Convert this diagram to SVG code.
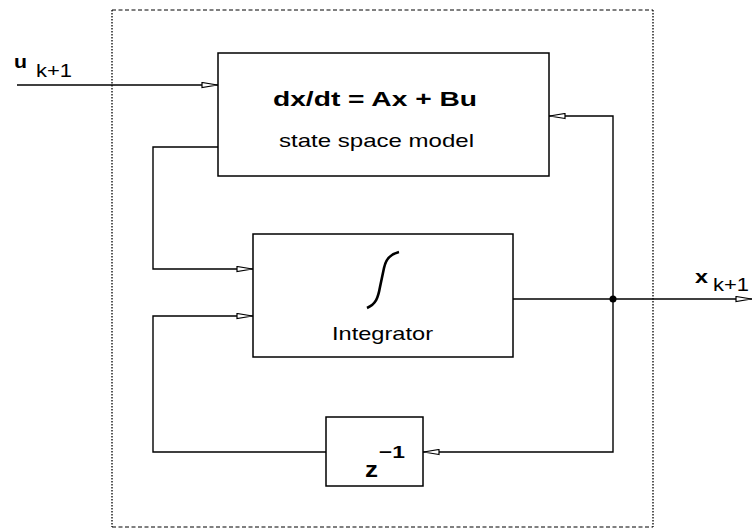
<svg xmlns="http://www.w3.org/2000/svg" width="752" height="529" viewBox="0 0 752 529">
<style>
.box{fill:#fff;stroke:#000;stroke-width:1.5}
.wire{fill:none;stroke:#000;stroke-width:1.4}
.t{font-family:"Liberation Sans",Arial,sans-serif;fill:#000}
.b{font-weight:bold}
</style>
<defs>
<marker id="ah" viewBox="0 0 17 7" refX="17" refY="3.5" markerWidth="17" markerHeight="7" markerUnits="userSpaceOnUse" orient="auto">
<path d="M1,1 L16.5,3.5 L1,6 Z" fill="#fff" stroke="#000" stroke-width="1.2"/>
</marker>
</defs>
<rect width="752" height="529" fill="#fff"/>
<g id="frame" fill="none" stroke="#000" stroke-width="1">
<line x1="112" y1="10" x2="653" y2="10" stroke-dasharray="4 2.5"/>
<line x1="112" y1="527" x2="653" y2="527" stroke-dasharray="4 2.5"/>
<line x1="112" y1="10" x2="112" y2="527" stroke-dasharray="1.5 1.5" stroke-width="1.3"/>
<line x1="653" y1="10" x2="653" y2="527" stroke-dasharray="1.5 1.5" stroke-width="1.3"/>
</g>
<g id="connectors">
<line class="wire" x1="17" y1="85" x2="218" y2="85" marker-end="url(#ah)"/>
<polyline class="wire" points="218,147 153,147 153,269 253,269" marker-end="url(#ah)"/>
<polyline class="wire" points="326,452 153,452 153,316 253,316" marker-end="url(#ah)"/>
<line class="wire" x1="513" y1="299" x2="752" y2="299" marker-end="url(#ah)"/>
<polyline class="wire" points="613,299 613,116 549,116" marker-end="url(#ah)"/>
<polyline class="wire" points="613,299 613,452 423,452" marker-end="url(#ah)"/>
<circle cx="613" cy="299" r="3.5" fill="#000"/>
</g>
<g id="state_space_model">
<rect class="box" x="218" y="53" width="331" height="123"/>
<text class="t b" x="273" y="106" font-size="20" textLength="204" lengthAdjust="spacingAndGlyphs">dx/dt = Ax + Bu</text>
<text class="t" x="279" y="147" font-size="19" textLength="195" lengthAdjust="spacingAndGlyphs">state space model</text>
</g>
<g id="integrator">
<rect class="box" x="253" y="234" width="260" height="123"/>
<path d="M367,308 C376,304 378,298 380,287 L384,268 C386,258 391,254 399,252" fill="none" stroke="#000" stroke-width="2.6"/>
<text class="t" x="332" y="340" font-size="19" textLength="101" lengthAdjust="spacingAndGlyphs">Integrator</text>
</g>
<g id="delay">
<rect class="box" x="326" y="417" width="97" height="69"/>
<text class="t b" x="365" y="477" font-size="22" textLength="13" lengthAdjust="spacingAndGlyphs">z</text>
<text class="t b" x="379" y="458" font-size="17" textLength="26" lengthAdjust="spacingAndGlyphs">−1</text>
</g>
<g id="labels">
<text class="t b" x="14" y="68" font-size="18" textLength="13" lengthAdjust="spacingAndGlyphs">u</text>
<text class="t" x="36" y="77" font-size="18" textLength="36" lengthAdjust="spacingAndGlyphs">k+1</text>
<text class="t b" x="695" y="283" font-size="18" textLength="13" lengthAdjust="spacingAndGlyphs">x</text>
<text class="t" x="713" y="291" font-size="18" textLength="36" lengthAdjust="spacingAndGlyphs">k+1</text>
</g>
</svg>
